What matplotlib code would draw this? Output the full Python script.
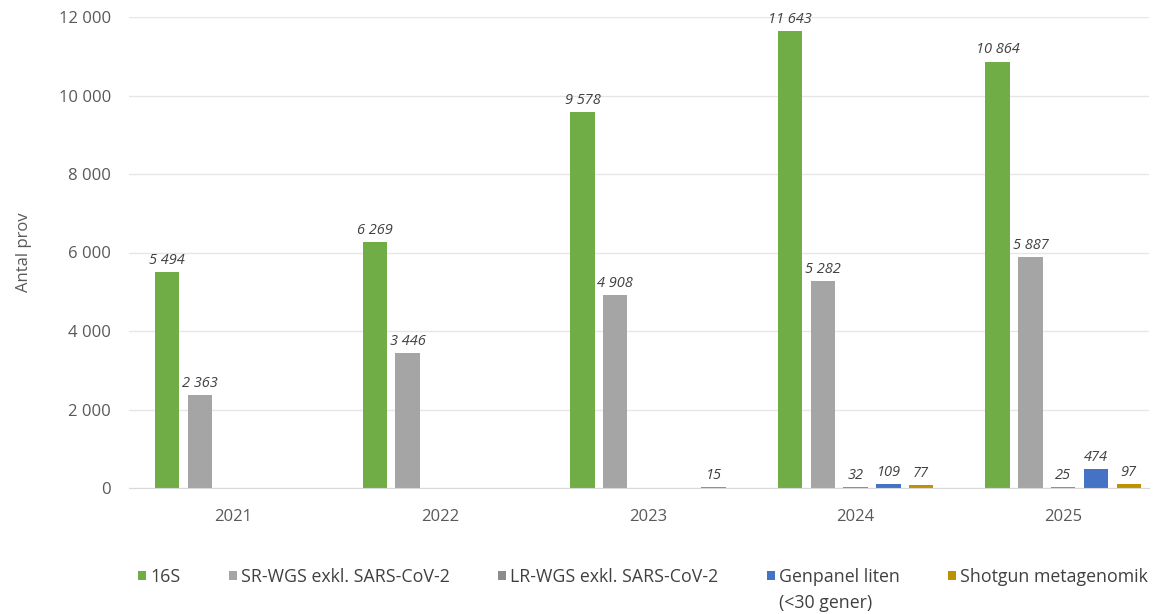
import numpy as np
import matplotlib
matplotlib.use("Agg")
import matplotlib.pyplot as plt
from matplotlib.ticker import FuncFormatter
from matplotlib.patches import Patch

years = ["2021", "2022", "2023", "2024", "2025"]
series_names = ["16S", "SR-WGS exkl. SARS-CoV-2", "LR-WGS exkl. SARS-CoV-2",
                "Genpanel liten", "Shotgun metagenomik"]
genpanel_second_line = "(<30 gener)"
s16 = [5494, 6269, 9578, 11643, 10864]
sr_wgs = [2363, 3446, 4908, 5282, 5887]
lr_wgs = [np.nan, np.nan, np.nan, 32, 25]
genpanel = [np.nan, np.nan, np.nan, 109, 474]
shotgun = [np.nan, np.nan, 15, 77, 97]
yticks = [0, 2000, 4000, 6000, 8000, 10000, 12000]

series = [s16, sr_wgs, lr_wgs, genpanel, shotgun]
colors = ["#70AD47", "#A5A5A5", "#8C8C8C", "#4472C4", "#BF9000"]
hatches = [None, None, "xxxx", None, None]

plt.rcParams['font.family'] = ['Open Sans', 'DejaVu Sans']
plt.rcParams['hatch.color'] = '#D0D0D0'
plt.rcParams['hatch.linewidth'] = 0.6

W, H = 1158, 614
fig = plt.figure(figsize=(W/100, H/100), dpi=100)
ax = fig.add_axes([129/W, 1-488/H, 1020/W, 471/H])

def fmt(v, pos=None):
    return f"{int(round(v)):,}".replace(",", " ")

x = np.arange(len(years))
step = 0.158
width = 0.117
for i, (vals, col, h) in enumerate(zip(series, colors, hatches)):
    vals = np.array(vals, dtype=float)
    pos = x + (i - 2) * step
    ax.bar(pos, np.nan_to_num(vals), width=width, color=col, hatch=h,
           edgecolor=col if h is None else '#8C8C8C', linewidth=0)
    for p, v in zip(pos, vals):
        if not np.isnan(v):
            ax.annotate(fmt(v), (p, v), xytext=(0, 3), textcoords="offset points",
                        ha="center", va="bottom", fontsize=10.5, style="italic",
                        color="#404040")

ax.set_xlim(-0.5, -0.5 + 1020/207.6)
ax.set_ylim(0, 12000)
ax.set_yticks(yticks)
ax.yaxis.set_major_formatter(FuncFormatter(fmt))
ax.set_xticks(x)
ax.set_xticklabels(years)
ax.grid(axis="y", color="#E6E6E6", linewidth=1.0)
ax.set_axisbelow(True)
for s in ["top", "right", "left"]:
    ax.spines[s].set_visible(False)
ax.spines["bottom"].set_color("#D9D9D9")
ax.tick_params(axis="y", length=0, labelsize=12, colors="#595959", pad=13)
ax.tick_params(axis="x", length=0, labelsize=12, colors="#595959", pad=15)
ax.set_ylabel("Antal prov", fontsize=12, color="#595959")
ax.yaxis.set_label_coords(-0.095, 0.5)

handles = [Patch(facecolor=c, hatch=h, edgecolor=('#8C8C8C' if h else c), linewidth=0)
           for c, h in zip(colors, hatches)]
leg = fig.legend(handles, series_names, loc="upper left",
                 bbox_to_anchor=(138/W, 1-568/H),
                 ncol=5, frameon=False, fontsize=12.8, handlelength=0.45, handleheight=0.45,
                 handletextpad=0.25, columnspacing=2.7, labelcolor="#404040",
                 borderpad=0, borderaxespad=0)

fig.canvas.draw()
t = leg.get_texts()[3]
bb = t.get_window_extent(fig.canvas.get_renderer())
fig.text(bb.x0 / W, (bb.y0 - 26) / H, genpanel_second_line, fontsize=12.8,
         color="#404040", ha="left", va="bottom")

fig.savefig("out.png", dpi=100)
